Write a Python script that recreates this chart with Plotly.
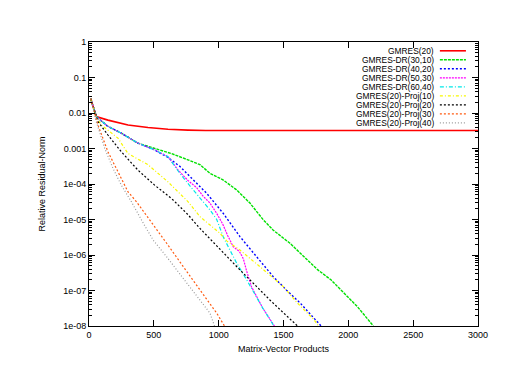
import plotly.graph_objects as go

# ------------------------------------------------------------------ data
names = ['GMRES(20)', 'GMRES-DR(30,10)', 'GMRES-DR(40,20)', 'GMRES-DR(50,30)', 'GMRES-DR(60,40)',
         'GMRES(20)-Proj(10)', 'GMRES(20)-Proj(20)', 'GMRES(20)-Proj(30)', 'GMRES(20)-Proj(40)']

x_gmres = [13, 56, 146, 301, 455, 609, 763, 900, 3000]
y_gmres = [2.57e-2, 7.9e-3, 6.3e-3, 4.6e-3, 3.9e-3, 3.47e-3, 3.3e-3, 3.2e-3, 3.2e-3]

x_dr30 = [13, 56, 146, 249, 378, 506, 635, 763, 856, 933, 1036, 1139, 1241, 1344, 1421, 1550, 1688, 1765,
          1866, 1993, 2070, 2193]
y_dr30 = [2.57e-2, 7.9e-3, 4.2e-3, 2.7e-3, 1.41e-3, 1.02e-3, 7.2e-4, 4.8e-4, 3.5e-4, 2.0e-4, 1.29e-4, 6.8e-5,
          2.9e-5, 9.8e-6, 5.0e-6, 2.14e-6, 7.2e-7, 3.8e-7, 2.0e-7, 6.6e-8, 3.5e-8, 1.0e-8]

x_dr40 = [13, 56, 146, 249, 378, 506, 609, 660, 702, 779, 907, 1036, 1164, 1293, 1421, 1524, 1627, 1790]
y_dr40 = [2.57e-2, 7.9e-3, 4.2e-3, 2.7e-3, 1.41e-3, 9.1e-4, 5.6e-4, 4.0e-4, 3.1e-4, 1.62e-4, 5.5e-5, 1.48e-5,
          3.3e-6, 8.9e-7, 2.45e-7, 1.02e-7, 4.5e-8, 1.0e-8]

x_dr50 = [13, 56, 146, 249, 378, 506, 609, 690, 763, 830, 881, 933, 985, 1030, 1070, 1113, 1160, 1190, 1216,
          1254, 1340, 1430]
y_dr50 = [2.57e-2, 7.9e-3, 4.2e-3, 2.7e-3, 1.41e-3, 9.1e-4, 5.9e-4, 2.4e-4, 1.26e-4, 7.9e-5, 4.5e-5, 2.9e-5,
          1.48e-5, 7.6e-6, 3.5e-6, 1.7e-6, 1.26e-6, 7.9e-7, 3.5e-7, 1.26e-7, 3.2e-8, 1.0e-8]

x_dr60 = [13, 56, 146, 249, 378, 506, 609, 655, 700, 804, 856, 933, 985, 1036, 1074, 1139, 1216, 1254, 1340, 1426]
y_dr60 = [2.57e-2, 7.9e-3, 4.2e-3, 2.7e-3, 1.41e-3, 9.1e-4, 5.9e-4, 3.5e-4, 2.0e-4, 6.8e-5, 4.0e-5, 1.86e-5,
          1.0e-5, 3.2e-6, 1.7e-6, 5.9e-7, 2.0e-7, 1.12e-7, 3.2e-8, 1.0e-8]

x_p10 = [13, 56, 95, 224, 301, 455, 609, 686, 763, 856, 933, 1010, 1062, 1164, 1318, 1498, 1608, 1737, 1770]
y_p10 = [2.57e-2, 7.6e-3, 4.6e-3, 1.95e-3, 7.2e-4, 3.5e-4, 1.15e-4, 6.0e-5, 3.2e-5, 1.2e-5, 7.1e-6, 4.1e-6,
         2.5e-6, 1.38e-6, 4.7e-7, 1.29e-7, 4.4e-8, 1.48e-8, 1.0e-8]

x_p20 = [13, 56, 69, 146, 249, 378, 506, 640, 700, 760, 856, 985, 1074, 1164, 1293, 1395, 1608]
y_p20 = [2.57e-2, 7.9e-3, 5.75e-3, 2.4e-3, 8.1e-4, 2.45e-4, 9.3e-5, 3.8e-5, 2.24e-5, 1.41e-5, 5.6e-6, 1.78e-6,
         8.1e-7, 3.8e-7, 1.29e-7, 5.4e-8, 1.0e-8]

x_p30 = [13, 56, 69, 146, 224, 301, 365, 470, 599, 727, 856, 985, 1045]
y_p30 = [2.57e-2, 7.6e-3, 4.6e-3, 8.1e-4, 2.24e-4, 6.0e-5, 3.2e-5, 9.8e-6, 2.14e-6, 4.7e-7, 1.02e-7, 2.3e-8, 1.0e-8]

x_p40 = [13, 56, 121, 185, 249, 326, 419, 496, 599, 676, 753, 830, 933, 968]
y_p40 = [2.57e-2, 5.75e-3, 1.02e-3, 2.75e-4, 9.3e-5, 3.2e-5, 7.8e-6, 2.6e-6, 8.9e-7, 3.8e-7, 1.58e-7, 6.8e-8,
         2.3e-8, 1.0e-8]

xs = [x_gmres, x_dr30, x_dr40, x_dr50, x_dr60, x_p10, x_p20, x_p30, x_p40]
ys = [y_gmres, y_dr30, y_dr40, y_dr50, y_dr60, y_p10, y_p20, y_p30, y_p40]

y_tickvals = [1, 0.1, 0.01, 0.001, 1e-4, 1e-5, 1e-6, 1e-7, 1e-8]
y_ticktext = ['1', '0.1', '0.01', '0.001', '1e-04', '1e-05', '1e-06', '1e-07', '1e-08']
x_tickvals = [0, 500, 1000, 1500, 2000, 2500, 3000]

# ------------------------------------------------------------------ styles
colors = ['#ff0000', '#00e000', '#0000ff', '#ff00ff', '#00e8e8', '#f8f800', '#000000', '#ff5a10', '#999999']
dashes = ['solid', '3px,1px', '2px,2px', '2px,1px', '4px,2px,1px,2px', '3px,2px,1px,2px', '2px,2px', '2px,2px', '1px,2px']
widths = [1.6, 1.4, 1.4, 1.2, 1.2, 1.2, 1.2, 1.2, 1.2]

fig = go.Figure()
for i in range(len(names)):
    fig.add_trace(go.Scatter(x=xs[i], y=ys[i], name=names[i], mode='lines',
                             line=dict(color=colors[i], dash=dashes[i], width=widths[i])))

# gnuplot style key: text right-aligned, sample line on the right
row_h = 9.0 / 284
for i in range(len(names)):
    yy = 0.969 - i * row_h
    fig.add_annotation(x=0.889, y=yy, xref='paper', yref='paper', text=names[i], showarrow=False,
                       xanchor='right', yanchor='middle', borderpad=0, font=dict(size=8.4, color='black'))
    fig.add_shape(type='line', xref='paper', yref='paper', x0=0.902, x1=0.969, y0=yy, y1=yy,
                  line=dict(color=colors[i], dash=dashes[i], width=widths[i]))

minor_vals = [m * 10 ** e for e in range(-8, 0) for m in range(2, 10)]

fig.update_layout(
    width=506, height=391,
    margin=dict(l=81, r=36, t=34, b=73),
    plot_bgcolor='white', paper_bgcolor='white',
    showlegend=False,
    font=dict(family='Liberation Sans, Arial, sans-serif', size=9, color='black'),
    xaxis=dict(range=[0, 3000], tickvals=x_tickvals, ticks='inside', ticklen=6, tickcolor='black',
               showline=True, linecolor='black', linewidth=1, mirror='ticks', showgrid=False, zeroline=False,
               title=dict(text='Matrix-Vector Products', standoff=6, font=dict(size=9))),
    yaxis=dict(type='log', range=[-8, 0], tickvals=y_tickvals, ticktext=y_ticktext, ticks='inside', ticklen=6,
               tickcolor='black', showline=True, linecolor='black', linewidth=1, mirror='ticks', showgrid=False,
               minor=dict(tickvals=minor_vals, ticks='inside', ticklen=3, tickcolor='black', showgrid=False),
               title=dict(text='Relative Residual-Norm', standoff=16, font=dict(size=9))),
)

fig.write_html("out.html")
